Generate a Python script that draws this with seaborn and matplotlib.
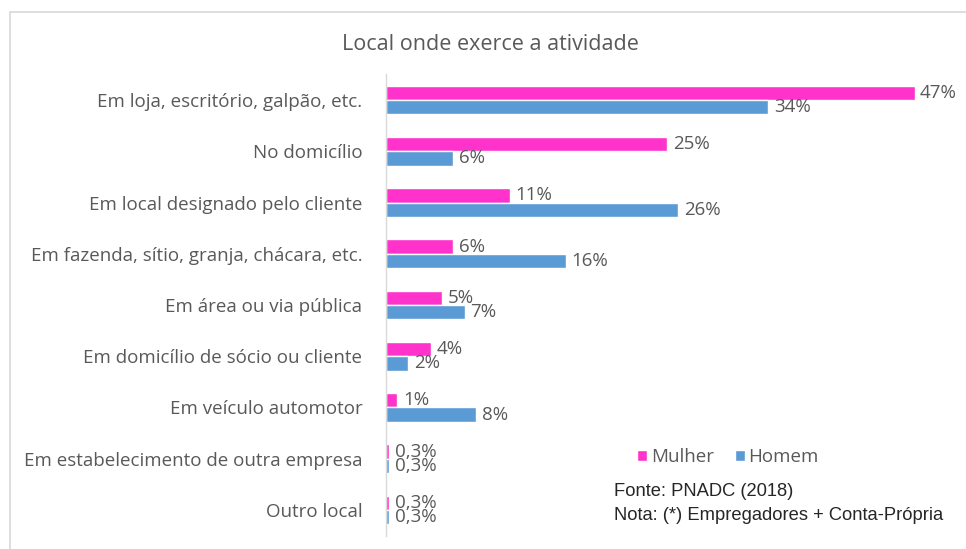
import matplotlib
matplotlib.use("Agg")
import matplotlib.pyplot as plt
from matplotlib.patches import Rectangle, Patch
import pandas as pd
import seaborn as sns

categories = [
    "Em loja, escritório, galpão, etc.",
    "No domicílio",
    "Em local designado pelo cliente",
    "Em fazenda, sítio, granja, chácara, etc.",
    "Em área ou via pública",
    "Em domicílio de sócio ou cliente",
    "Em veículo automotor",
    "Em estabelecimento de outra empresa",
    "Outro local",
]
mulher = [47, 25, 11, 6, 5, 4, 1, 0.3, 0.3]
homem = [34, 6, 26, 16, 7, 2, 8, 0.3, 0.3]
series = ["Mulher", "Homem"]
colors = ["#FF33CC", "#5B9BD5"]

df = pd.DataFrame({"local": categories, "Mulher": mulher, "Homem": homem})
df_melt = df.melt(id_vars="local", var_name="sexo", value_name="pct")

sns.set_style("white")
plt.rcParams["font.family"] = ["Open Sans", "DejaVu Sans"]

fig = plt.figure(figsize=(9.66, 5.49), dpi=100)
ax = fig.add_axes([386 / 966, 0.0244, (937 - 386) / 966, 0.8401])

sns.barplot(data=df_melt, y="local", x="pct", hue="sexo", order=categories,
            hue_order=series, palette=colors, width=0.56, orient="h",
            saturation=1, legend=False, ax=ax)

def fmt(v):
    if v < 1:
        return ("%.1f%%" % v).replace(".", ",")
    return "%d%%" % v

for cont in ax.containers:
    ax.bar_label(cont, labels=[fmt(b.get_width()) for b in cont],
                 padding=4, color="#595959", fontsize=13.5)

ax.set_xlim(0, 49)
ax.set_ylim(8.5, -0.5)
ax.set_xlabel("")
ax.set_ylabel("")
ax.set_xticks([])
ax.tick_params(axis="y", length=0, pad=17, labelsize=13.5, labelcolor="#595959")
for s in ["top", "right", "bottom"]:
    ax.spines[s].set_visible(False)
ax.spines["left"].set_color("#d9d9d9")
ax.spines["left"].set_linewidth(1)

fig.text(490 / 966, 1 - 45 / 549, "Local onde exerce a atividade", ha="center",
         va="center", fontsize=15.5, color="#595959")

handles = [Patch(facecolor=c, label=s) for s, c in zip(series, colors)]
fig.legend(handles=handles, loc="center left", bbox_to_anchor=(620 / 966, 1 - 457 / 549),
           ncol=2, frameon=False, fontsize=13.5, handlelength=0.55, handleheight=0.55,
           handletextpad=0.2, columnspacing=1.1, labelcolor="#595959")

fig.text(614 / 966, 1 - 492 / 549, "Fonte: PNADC (2018)", family="Liberation Sans",
         fontsize=13.2, color="#262626", va="center")
fig.text(614 / 966, 1 - 515 / 549, "Nota: (*) Empregadores + Conta-Própria",
         family="Liberation Sans", fontsize=13.2, color="#262626", va="center")

fig.patches.append(Rectangle((10 / 966, -0.1), 2, 1 - 12 / 549 + 0.1,
                             transform=fig.transFigure, fill=False,
                             edgecolor="#d9d9d9", linewidth=1.2))

fig.savefig("out.png", dpi=100)
